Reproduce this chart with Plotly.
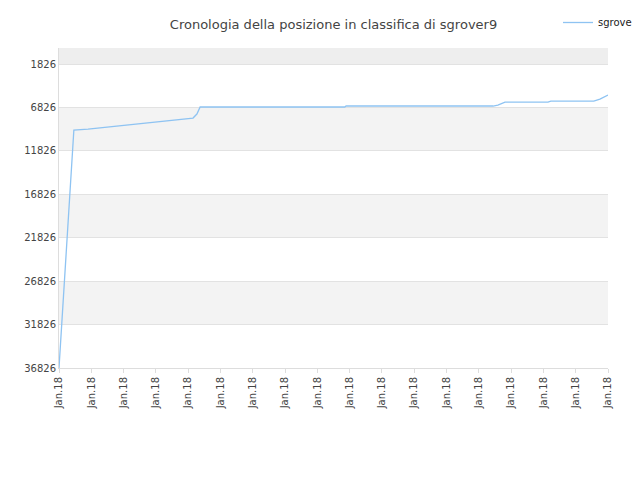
import plotly.graph_objects as go

x_vals = [0, 0.06, 0.15, 0.25, 0.34, 0.40, 0.46, 0.9, 2.14, 3.37, 4.15, 4.27, 4.37, 8.85, 8.89, 13.44, 13.59, 13.81, 15.14, 15.23, 16.56, 16.75, 17]
positions = [36826, 33370, 27616, 21858, 16102, 12650, 9425, 9310, 8849, 8388, 8043, 7583, 6776, 6776, 6661, 6661, 6546, 6201, 6201, 6086, 6086, 5856, 5395]
tick_labels = ["Jan.18"] * 18
y_ticks = [1826, 6826, 11826, 16826, 21826, 26826, 31826, 36826]

fig = go.Figure()
fig.add_trace(go.Scatter(x=x_vals, y=positions, mode="lines", name="sgrover9",
                         line=dict(color="#8ec3f2", width=1.3)))

bands = [(-20, 1826, "#eeeeee"), (6826, 11826, "#f3f3f3"), (16826, 21826, "#f3f3f3"), (26826, 31826, "#f3f3f3")]
for y0, y1, c in bands:
    fig.add_hrect(y0=y0, y1=y1, fillcolor=c, line_width=0, layer="below")

fig.update_layout(
    width=640, height=480,
    title=dict(text="Cronologia della posizione in classifica di sgrover9", x=0.5, y=0.975,
               xref="paper", font=dict(size=13, color="#444", family="DejaVu Sans")),
    font=dict(family="DejaVu Sans", size=10, color="#444"),
    plot_bgcolor="white", paper_bgcolor="white",
    margin=dict(l=51, r=40, t=40, b=120, autoexpand=False),
    showlegend=True,
    legend=dict(x=1.0, y=1.0, xref="container", yref="container", xanchor="right", yanchor="top",
                itemwidth=30, font=dict(size=10, color="#222")),
    xaxis=dict(range=[0, 17], tickvals=list(range(18)), ticktext=tick_labels, tickangle=-90,
               automargin=False, tickfont=dict(size=10),
               showgrid=False, zeroline=False, showline=True, linecolor="#ddd", ticks="outside",
               ticklen=4, tickcolor="#ddd"),
    yaxis=dict(range=[36826, -20], tickvals=y_ticks, ticktext=[str(v) for v in y_ticks],
               automargin=False, tickfont=dict(size=10),
               showgrid=True, gridcolor="#e2e2e2", zeroline=False, showline=True, linecolor="#ddd"),
)
fig.write_html("out.html")
